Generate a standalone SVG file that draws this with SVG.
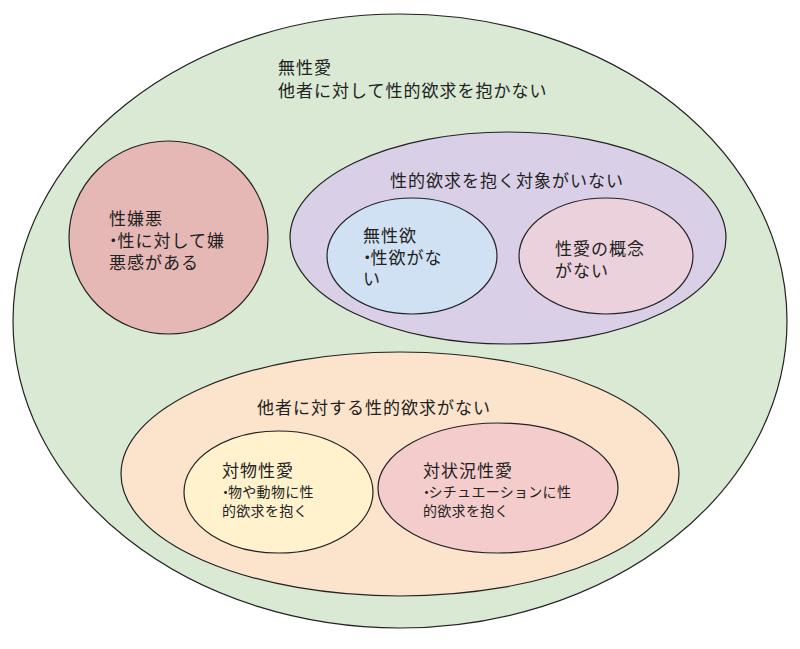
<svg xmlns="http://www.w3.org/2000/svg" width="800" height="649" viewBox="0 0 800 649">
<style>
.sh{stroke:#222;stroke-width:1.2}
text{font-family:"Liberation Sans","Noto Sans CJK JP",sans-serif;fill:#222}
.t17{font-size:17px;letter-spacing:1px}
.t14{font-size:14px;letter-spacing:0.3px}
.dot{font-feature-settings:"palt" 1;letter-spacing:0}
</style>
<rect width="800" height="649" fill="#ffffff"/>
<g id="asexual">
<ellipse class="sh" cx="400" cy="321" rx="387" ry="307" fill="#d9e9d3"/>
<text class="t17" x="278" y="74">無性愛</text>
<text class="t17" x="278" y="97">他者に対して性的欲求を抱かない</text>
</g>
<g id="sex-aversion">
<ellipse class="sh" cx="168.5" cy="237.5" rx="99.5" ry="96.5" fill="#e6b8b5"/>
<text class="t17" x="109" y="225">性嫌悪</text>
<text class="t17" x="109" y="247"><tspan class="dot">・</tspan><tspan x="117.5">性に対して嫌</tspan></text>
<text class="t17" x="109" y="269">悪感がある</text>
</g>
<g id="no-target">
<ellipse class="sh" cx="508" cy="238" rx="218" ry="106" fill="#d9d0e8"/>
<text class="t17" x="390" y="187">性的欲求を抱く対象がいない</text>
</g>
<g id="no-libido">
<ellipse class="sh" cx="412" cy="256" rx="85" ry="58" fill="#cfe1f3"/>
<text class="t17" x="363" y="242">無性欲</text>
<text class="t17" x="363" y="264"><tspan class="dot">・</tspan><tspan x="370.5">性欲がな</tspan></text>
<text class="t17" x="363" y="285">い</text>
</g>
<g id="no-concept">
<ellipse class="sh" cx="606" cy="256" rx="87" ry="58" fill="#ead1dc"/>
<text class="t17" x="555" y="255">性愛の概念</text>
<text class="t17" x="555" y="277">がない</text>
</g>
<g id="no-desire-others">
<ellipse class="sh" cx="400" cy="474" rx="279" ry="122" fill="#fce4cc"/>
<text class="t17" x="257" y="414">他者に対する性的欲求がない</text>
</g>
<g id="objectophilia">
<ellipse class="sh" cx="278.5" cy="492" rx="94.5" ry="61" fill="#fff2cc"/>
<text class="t17" x="222" y="477">対物性愛</text>
<text class="t14" x="222" y="497"><tspan class="dot">・</tspan><tspan x="228">物や動物に性</tspan></text>
<text class="t14" x="222" y="516">的欲求を抱く</text>
</g>
<g id="situational">
<ellipse class="sh" cx="498" cy="488" rx="120" ry="65" fill="#f4cccc"/>
<text class="t17" x="423" y="477">対状況性愛</text>
<text class="t14" x="423" y="497"><tspan class="dot">・</tspan><tspan x="428.5">シチュエーションに性</tspan></text>
<text class="t14" x="423" y="516">的欲求を抱く</text>
</g>
<g id="connectors"></g>
</svg>
